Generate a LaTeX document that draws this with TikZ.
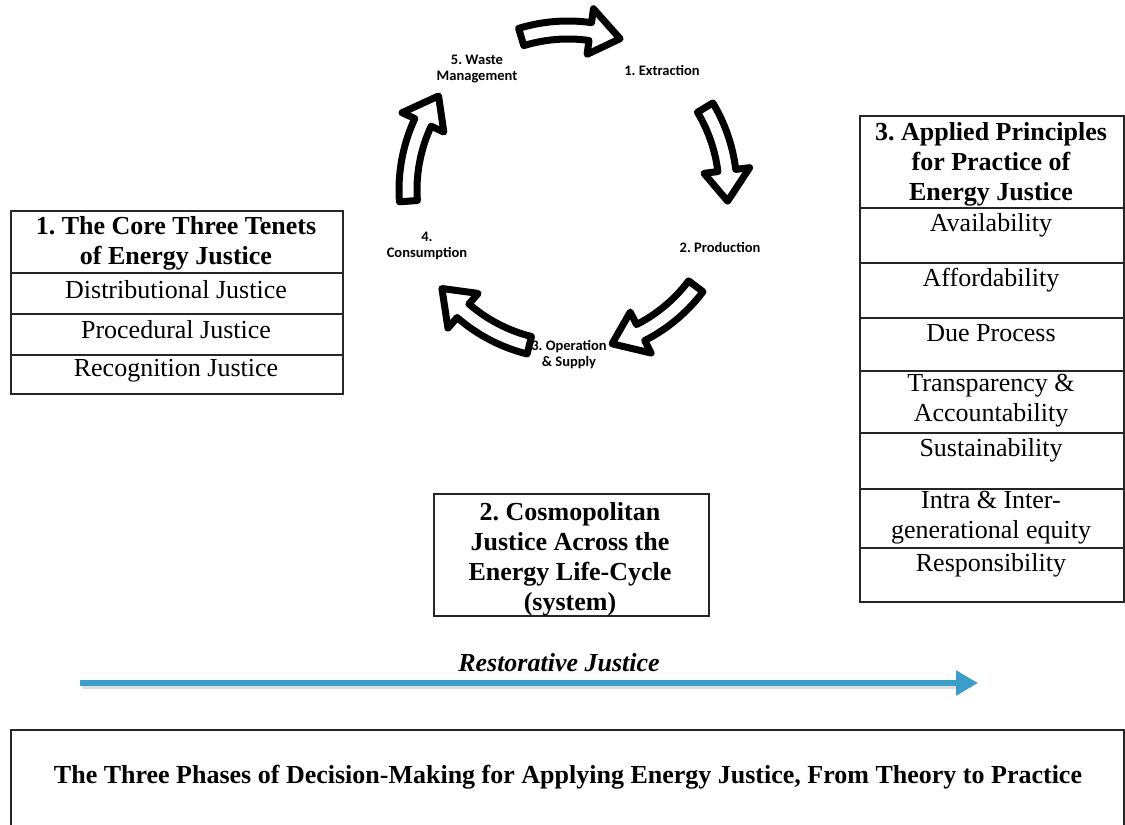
\documentclass[tikz,border=0pt]{standalone}
\usepackage{fontspec}
\setmainfont{Liberation Serif}
\newfontfamily\cycfont{Carlito}
\usetikzlibrary{arrows.meta}
\definecolor{rjblue}{HTML}{3C9DC9}
\frenchspacing
\tikzset{
  cell/.style={draw=black!85, line width=1.6pt, anchor=north west, inner sep=0pt},
  txt/.style={font=\frenchspacing\fontsize{26}{30}\selectfont, align=center, inner sep=0pt},
  btxt/.style={font=\frenchspacing\fontsize{26}{30}\selectfont\bfseries, align=center, inner sep=0pt},
  lbl/.style={font=\frenchspacing\cycfont\bfseries\fontsize{14.5}{16}\selectfont, align=center, inner sep=0pt},
  blockarrow/.style={draw=black, line width=7pt, line join=round, fill=white},
  rjarrow/.style={draw=rjblue, line width=6pt, -{Triangle[length=22pt,width=24pt]}}
}
\begin{document}
\begin{tikzpicture}[x=1pt,y=-1pt]
\useasboundingbox (0,0) rectangle (1125,825);
\fill[white] (0,0) rectangle (1125,825);

% ---- life-cycle arrows ----
\begin{scope}[shift={(568,190)}, yscale=-1]
\foreach \a/\b in {107/71, 31/-4, -37/-74, -104/-142, 184/144}{
  \pgfmathsetmacro\h{\b+11}
  \draw[blockarrow] (\a:169) arc[start angle=\a, end angle=\h, radius=169]
     -- (\h:183) -- (\b:160) -- (\h:137) -- (\h:151)
     arc[start angle=\h, end angle=\a, radius=151] -- cycle;
}
\end{scope}

% ---- life-cycle labels ----
\node[lbl] (ext) at (662,70) {1. Extraction};
\node[lbl] (prod) at (720,247) {2. Production};
\node[lbl] (oper) at (569,355) {3. Operation\\\& Supply};
\node[lbl] (cons) at (427,246) {4.\\Consumption};
\node[lbl] (waste) at (477,69) {5. Waste\\Management};

% ---- left box ----
\node[cell, minimum width=332, minimum height=62] (lh) at (10,210) {};
\node[cell, minimum width=332, minimum height=41] (l1) at (10,272) {};
\node[cell, minimum width=332, minimum height=41] (l2) at (10,313) {};
\node[cell, minimum width=332, minimum height=39] (l3) at (10,354) {};
\node[btxt] (lht) at (176,243) {1. The Core Three Tenets\\of Energy Justice};
\node[txt] (l1t) at (176,290) {Distributional Justice};
\node[txt] (l2t) at (176,330) {Procedural Justice};
\node[txt] (l3t) at (176,371) {Recognition Justice};

% ---- middle box ----
\node[cell, minimum width=275, minimum height=122] (mid) at (433,493) {};
\node[btxt] (midt) at (570,559) {2. Cosmopolitan\\Justice Across the\\Energy Life-Cycle\\(system)};

% ---- right box ----
\node[cell, minimum width=264, minimum height=92] (rh) at (859,115) {};
\node[cell, minimum width=264, minimum height=55] (r1) at (859,207) {};
\node[cell, minimum width=264, minimum height=55] (r2) at (859,262) {};
\node[cell, minimum width=264, minimum height=53] (r3) at (859,317) {};
\node[cell, minimum width=264, minimum height=62] (r4) at (859,370) {};
\node[cell, minimum width=264, minimum height=56] (r5) at (859,432) {};
\node[cell, minimum width=264, minimum height=59] (r6) at (859,488) {};
\node[cell, minimum width=264, minimum height=54] (r7) at (859,547) {};
\node[btxt] (rht) at (991,164) {3. Applied Principles\\for Practice of\\Energy Justice};
\node[txt] (r1t) at (991,225) {Availability};
\node[txt] (r2t) at (991,280) {Affordability};
\node[txt] (r3t) at (991,333) {Due Process};
\node[txt] (r4t) at (991,401) {Transparency \&\\Accountability};
\node[txt] (r5t) at (991,450) {Sustainability};
\node[txt] (r6t) at (991,518) {Intra \& Inter-\\generational equity};
\node[txt] (r7t) at (991,565) {Responsibility};

% ---- restorative justice arrow ----
\coordinate (rs) at (80,683);
\coordinate (re) at (978,683);
\draw[black!25, line width=6pt, opacity=0.5] ([shift={(2,3)}]rs) -- ([shift={(-20,3)}]re);
\draw[rjarrow] (rs) -- (re);
\node[font=\fontsize{26}{30}\selectfont\bfseries\itshape, inner sep=0pt] (rj) at (559,663) {Restorative Justice};

% ---- bottom box ----
\node[cell, minimum width=1113, minimum height=120] (phases) at (10,729) {};
\node[btxt] (phasest) at (568,777) {The Three Phases of Decision-Making for Applying Energy Justice, From Theory to Practice};
\end{tikzpicture}
\end{document}
